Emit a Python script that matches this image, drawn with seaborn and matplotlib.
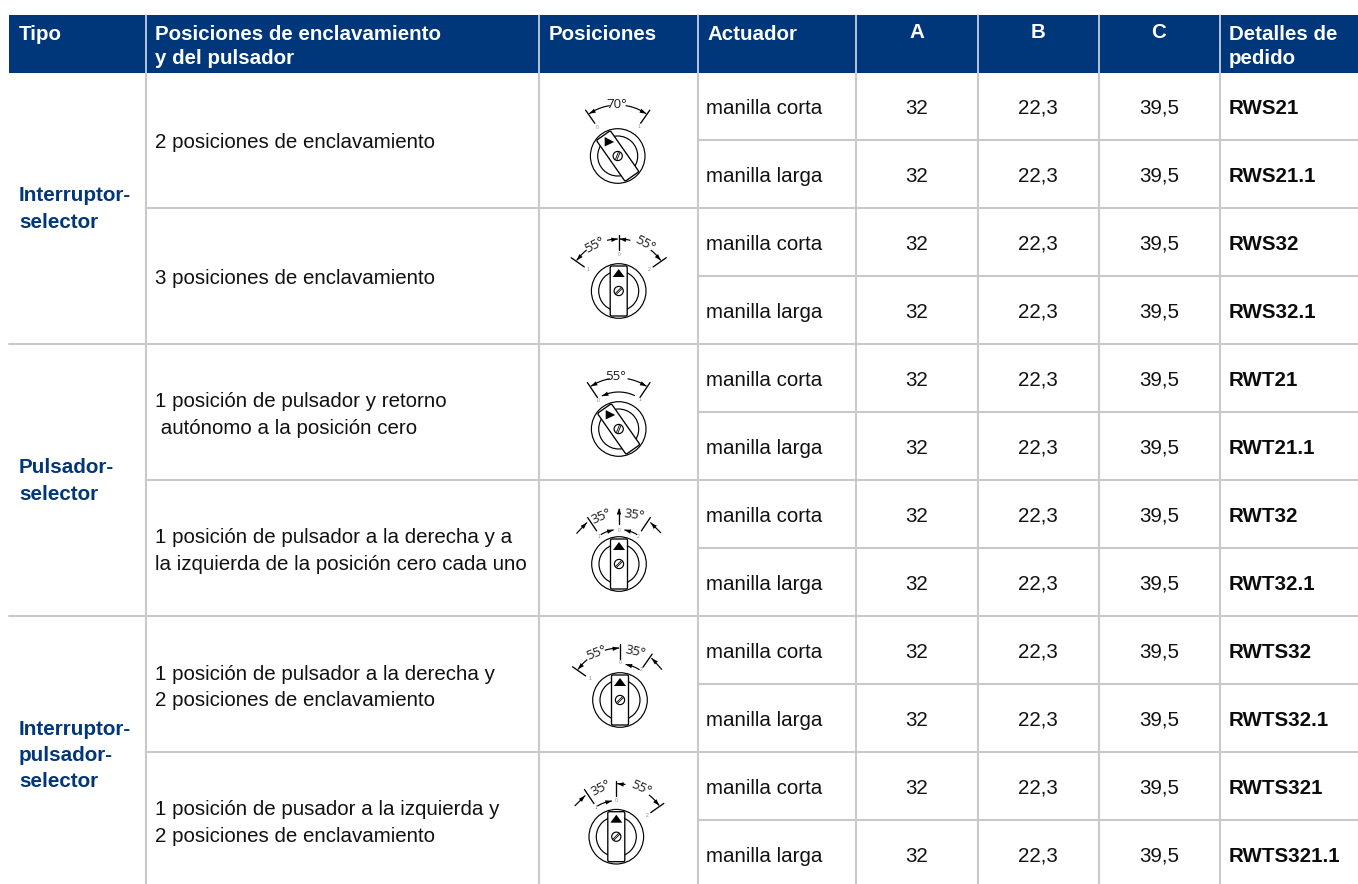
import numpy as np
import pandas as pd
import matplotlib
matplotlib.use("Agg")
import matplotlib.pyplot as plt
from matplotlib.patches import Rectangle, Circle, Polygon, FancyBboxPatch
from matplotlib.transforms import Affine2D
import seaborn as sns

# ---- table content ----
HEADERS = ["Tipo", "Posiciones de enclavamiento\ny del pulsador", "Posiciones", "Actuador",
           "A", "B", "C", "Detalles de\npedido"]
TYPES = [["Interruptor-", "selector"], ["Pulsador-", "selector"],
         ["Interruptor-", "pulsador-", "selector"]]
DESCRIPTIONS = [["2 posiciones de enclavamiento"],
                ["3 posiciones de enclavamiento"],
                ["1 posición de pulsador y retorno", " autónomo a la posición cero"],
                ["1 posición de pulsador a la derecha y a", "la izquierda de la posición cero cada uno"],
                ["1 posición de pulsador a la derecha y", "2 posiciones de enclavamiento"],
                ["1 posición de pusador a la izquierda y", "2 posiciones de enclavamiento"]]
ACTUATORS = ["manilla corta", "manilla larga"] * 6
A_VALUES = ["32"] * 12
B_VALUES = ["22,3"] * 12
C_VALUES = ["39,5"] * 12
CODES = ["RWS21", "RWS21.1", "RWS32", "RWS32.1", "RWT21", "RWT21.1",
         "RWT32", "RWT32.1", "RWTS32", "RWTS32.1", "RWTS321", "RWTS321.1"]

# ---- layout (pixels) ----
W, H = 1358, 884
NAVY, GREY, INK = "#00377a", "#c9c9c9", "#111111"
COLS = [145.5, 538.5, 697.5, 856, 977.5, 1098.5, 1219.5]
HEAD_TOP, HEAD_BOT = 14.5, 73
STEP = 68
FS = 14.8

sns.set_theme(style="white", rc={"font.family": ["Liberation Sans", "DejaVu Sans"]})
fig = plt.figure(figsize=(W / 100, H / 100), dpi=100)
ax = fig.add_axes([0, 0, 1, 1])
ax.set_xlim(0, W)
ax.set_ylim(H, 0)
ax.axis("off")

# header band
ax.add_patch(Rectangle((9, HEAD_TOP), W - 9, HEAD_BOT - HEAD_TOP, fc=NAVY, ec="none", zorder=1))

# grid, one record per line end
seg = []
def add_seg(x0, y0, x1, y1):
    n = len(seg) // 2
    seg.append((n, x0, y0))
    seg.append((n, x1, y1))
for x in COLS:
    add_seg(x, HEAD_BOT, x, H)
for i in range(1, 12):
    y = HEAD_BOT + i * STEP - 1
    if i % 2:
        x0 = COLS[2]
    elif i % 4 == 0:
        x0 = 9
    else:
        x0 = COLS[0]
    add_seg(x0, y, W, y)
grid = pd.DataFrame(seg, columns=["seg", "x", "y"])
sns.lineplot(data=grid, x="x", y="y", units="seg", estimator=None, sort=False,
             color=GREY, linewidth=1.5, ax=ax, legend=False, zorder=2)

sep = pd.DataFrame([(i, x, y) for i, x in enumerate(COLS) for y in (HEAD_TOP, HEAD_BOT)],
                   columns=["seg", "x", "y"])
sns.lineplot(data=sep, x="x", y="y", units="seg", estimator=None, sort=False,
             color="#c4d0e2", linewidth=1.3, ax=ax, legend=False, zorder=3)
ax.set_xlim(0, W)
ax.set_ylim(H, 0)
ax.axis("off")

# header text
HEAD_X = [19, 155, 549, 707, None, None, None, 1229]
CENTERS = [917, 1038, 1159]
for h, x in zip(HEADERS, HEAD_X):
    for j, line in enumerate(h.split("\n")):
        if x is None:
            cx = CENTERS[HEADERS.index(h) - 4]
            ax.text(cx, 38.3, line, color="white", weight="bold", fontsize=FS, ha="center", va="baseline", zorder=5)
        else:
            ax.text(x, 39.5 + 24.5 * j, line, color="white", weight="bold", fontsize=FS, va="baseline", zorder=5)

# row text
for i in range(12):
    y = 114 + i * STEP
    ax.text(706.5, y, ACTUATORS[i], color=INK, fontsize=FS, va="baseline", zorder=5)
    ax.text(CENTERS[0], y, A_VALUES[i], color=INK, fontsize=FS, ha="center", va="baseline", zorder=5)
    ax.text(CENTERS[1], y, B_VALUES[i], color=INK, fontsize=FS, ha="center", va="baseline", zorder=5)
    ax.text(CENTERS[2], y, C_VALUES[i], color=INK, fontsize=FS, ha="center", va="baseline", zorder=5)
    ax.text(1229, y, CODES[i], color="#0c0c0c", weight="bold", fontsize=FS, va="baseline", zorder=5)

DESC_Y = [[148], [284], [407, 433.5], [543, 570], [679.5, 706], [815, 842]]
for lines, ys in zip(DESCRIPTIONS, DESC_Y):
    for line, y in zip(lines, ys):
        ax.text(155, y, line, color=INK, fontsize=FS, va="baseline", zorder=5)

TYPE_Y = [[201, 228], [473, 500], [734.7, 760.7, 786.7]]
for lines, ys in zip(TYPES, TYPE_Y):
    for line, y in zip(lines, ys):
        ax.text(19, y, line, color=NAVY, weight="bold", fontsize=14.9, va="baseline", zorder=5)


# ---- selector pictograms ----
LW = 0.85
def pol(c, a, r):
    t = np.radians(a)
    return c[0] + r * np.sin(t), c[1] - r * np.cos(t)

def head(tip, angle_dir, size=6.5, wid=2.2):
    d = np.array([np.sin(np.radians(angle_dir)), -np.cos(np.radians(angle_dir))])
    n = np.array([-d[1], d[0]])
    tip = np.array(tip)
    ax.add_patch(Polygon([tip, tip - size * d + wid * n, tip - size * d - wid * n],
                         fc="black", ec="none", zorder=6))

def arc(c, a0, a1, r, start=False, end=False):
    t = np.linspace(a0, a1, 24)
    ax.plot(*zip(*[pol(c, a, r) for a in t]), color="black", lw=LW, zorder=5, solid_capstyle="butt")
    s = np.sign(a1 - a0)
    if end:
        head(pol(c, a1, r), a1 + 90 * s - 6 * s)
    if start:
        head(pol(c, a0, r), a0 - 90 * s + 6 * s)

def tick(c, a, r0, r1):
    ax.plot(*zip(pol(c, a, r0), pol(c, a, r1)), color="black", lw=LW + 0.1, zorder=5)

def tiny(c, a, r, s):
    x, y = pol(c, a, r)
    ax.text(x, y, s, fontsize=3.6, color="#8a8a8a", ha="center", va="center", zorder=5)

def angle_label(x, y, s, rot):
    ax.text(x, y, s, fontsize=9.6, color="#1c1c1c", ha="center", va="center", rotation=rot,
            family=["Open Sans", "DejaVu Sans"], zorder=6)

def dial(c, turned):
    ax.add_patch(Circle(c, 27.3, fc="white", ec="black", lw=LW, zorder=4))
    ax.add_patch(Circle(c, 20, fc="white", ec="black", lw=LW, zorder=4))
    rot = -35 if turned else 0
    tr = Affine2D().rotate_deg(rot).translate(*c) + ax.transData
    ax.add_patch(FancyBboxPatch((-8.5, -25), 17, 50, boxstyle="round,pad=0,rounding_size=1.5",
                                fc="white", ec="black", lw=LW + 0.1, zorder=5, transform=tr))
    if turned:
        ax.add_patch(Polygon([(c[0] - 13, c[1] - 19), (c[0] - 13, c[1] - 9.5), (c[0] - 3.5, c[1] - 14)],
                             fc="black", ec="none", zorder=6))
    else:
        ax.add_patch(Polygon([(c[0], c[1] - 22), (c[0] - 6, c[1] - 14), (c[0] + 6, c[1] - 14)],
                             fc="black", ec="none", zorder=6))
    ax.add_patch(Circle(c, 4.6, fc="white", ec="black", lw=LW, zorder=6))
    slot = 22 if turned else 45
    for off in ((-0.8, 0.8) if turned else (-0.7, 0.7)):
        s = np.sin(np.radians(slot)); k = np.cos(np.radians(slot))
        ax.plot([c[0] - 4 * s + off * k, c[0] + 4 * s + off * k],
                [c[1] + 4 * k + off * s, c[1] - 4 * k + off * s],
                color="black", lw=0.6, zorder=7)

# 1: two latched positions, 70 degrees
c = (617.7, 156)
dial(c, True)
tick(c, -35, 40, 56); tick(c, 35, 40, 56)
arc(c, -34, -9, 51, start=True); arc(c, 9, 34, 51, end=True)
angle_label(616.7, 104.5, "70°", 0)
tiny(c, -35, 35, "0"); tiny(c, 36, 36, "1")

# 2: three latched positions
c = (618.7, 291)
dial(c, False)
tick(c, 0, 41, 56); tick(c, -55, 42, 58); tick(c, 55, 42, 58)
arc(c, -54, -38, 52, start=True); arc(c, -13, -1, 52, end=True)
arc(c, 1, 13, 52, start=True); arc(c, 38, 54, 52, end=True)
angle_label(595, 245, "55°", 28); angle_label(645, 244, "55°", -28)
tiny(c, 0, 36, "0"); tiny(c, -55, 37, "1"); tiny(c, 55, 37, "2")

# 3: one push position, self-return
c = (618.7, 429)
dial(c, True)
tick(c, -34, 38, 56); tick(c, 34, 38, 56)
arc(c, -33, -10, 51, start=True); arc(c, 10, 33, 51, end=True)
arc(c, 26, -27, 37, end=True)
angle_label(616, 377, "55°", 0)
tiny(c, -35, 35, "0"); tiny(c, 36, 36, "1")

# 4: one push position to each side
c = (619, 564)
dial(c, False)
tick(c, 0, 40, 55); head(pol(c, 0, 56), 0)
tick(c, -34, 40, 56); tick(c, 34, 40, 56)
arc(c, -32, -9, 34.5, end=True); arc(c, 32, 9, 34.5, end=True)
ax.plot([576.7, 586.7], [533.3, 522.7], color="black", lw=LW, zorder=5); head((586.7, 522.7), 43)
ax.plot([660.7, 650.7], [532.7, 522.7], color="black", lw=LW, zorder=5); head((650.7, 522.7), -45)
angle_label(601.5, 516, "35°", 25); angle_label(634.5, 515, "35°", -8)
tiny(c, 0, 34, "0"); tiny(c, -35, 34, "1"); tiny(c, 35, 34, "2")

# 5: push right, two latched
c = (620, 700)
dial(c, False)
tick(c, 0, 41, 56); tick(c, -55, 42, 58); tick(c, 35, 40, 56)
arc(c, -54, -39, 52, start=True); arc(c, -17, -1, 52, end=True)
arc(c, 33, 9, 36, end=True)
ax.plot([661.7, 651.7], [669.3, 658.3], color="black", lw=LW, zorder=5); head((651.7, 658.3), -45)
angle_label(596, 652.7, "55°", 22); angle_label(635, 651.7, "35°", -12)
tiny(c, 0, 37, "0"); tiny(c, -55, 37, "1"); tiny(c, 35, 37, "2")

# 6: push left, two latched
c = (616.3, 836.7)
dial(c, False)
tick(c, 0, 41, 56); tick(c, -34, 40, 57); tick(c, 55, 42, 58)
arc(c, 1, 10, 53, start=True); arc(c, 38, 54, 53, end=True)
arc(c, -32, -7, 36, end=True)
ax.plot([575, 585], [805.7, 795.7], color="black", lw=LW, zorder=5); head((585, 795.7), 45)
angle_label(600.7, 788, "35°", 28); angle_label(640.7, 788, "55°", -24)
tiny(c, 0, 36, "0"); tiny(c, -35, 36, "1"); tiny(c, 55, 37, "2")

fig.savefig("out.png", dpi=100, facecolor="white")
